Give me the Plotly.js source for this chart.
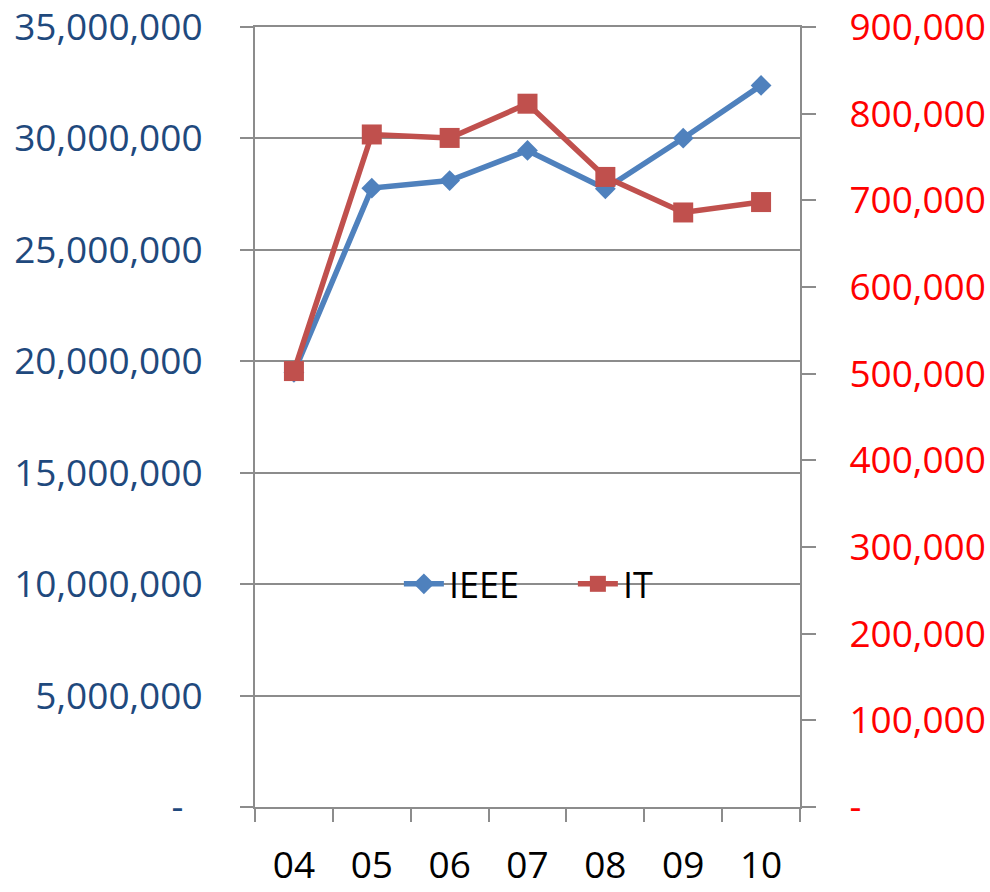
<!DOCTYPE html>
<html>
<head>
<meta charset="utf-8">
<script src="https://cdn.plot.ly/plotly-3.0.1.min.js"></script>
<style>html,body{margin:0;padding:0;background:#fff;}#chart{width:990px;height:892px;}</style>
</head>
<body>
<div id="chart"></div>
<script>
const categories = ["04", "05", "06", "07", "08", "09", "10"];
const ieeeValues = [19500000, 27770000, 28110000, 29460000, 27740000, 30010000, 32380000];
const itValues = [503000, 776000, 772000, 811500, 727000, 686000, 698000];
const leftTickVals = [0, 5000000, 10000000, 15000000, 20000000, 25000000, 30000000, 35000000];
const leftTickText = ["-\u00a0\u00a0", "5,000,000", "10,000,000", "15,000,000", "20,000,000", "25,000,000", "30,000,000", "35,000,000"];
const rightTickVals = [0, 100000, 200000, 300000, 400000, 500000, 600000, 700000, 800000, 900000];
const rightTickText = ["-", "100,000", "200,000", "300,000", "400,000", "500,000", "600,000", "700,000", "800,000", "900,000"];

const FONT = "Open Sans, Liberation Sans, sans-serif";
const GRID = "#8c8c8c";

const traces = [
  {
    x: categories, y: ieeeValues, name: "IEEE", type: "scatter", mode: "lines+markers",
    line: {color: "#4F81BD", width: 5.5},
    marker: {symbol: "diamond", size: 16, color: "#4F81BD"},
    yaxis: "y"
  },
  {
    x: categories, y: itValues, name: "IT", type: "scatter", mode: "lines+markers",
    line: {color: "#C0504D", width: 5.5},
    marker: {symbol: "square", size: 20, color: "#C0504D"},
    yaxis: "y2"
  }
];

const layout = {
  width: 990, height: 892,
  paper_bgcolor: "#fff", plot_bgcolor: "#fff",
  margin: {l: 255, r: 190, t: 27, b: 85, pad: 0},
  font: {family: FONT, size: 36, color: "#000"},
  showlegend: true,
  legend: {
    orientation: "h", x: 0.264, y: 0.286, xanchor: "left", yanchor: "middle",
    bgcolor: "rgba(0,0,0,0)", font: {family: FONT, size: 36, color: "#000"},
    entrywidth: 119, entrywidthmode: "pixels", itemwidth: 40
  },
  xaxis: {
    type: "category", tickson: "boundaries", ticks: "outside", ticklen: 13, tickwidth: 2,
    tickcolor: GRID, showline: true, linecolor: GRID, linewidth: 2, mirror: true,
    showgrid: false, zeroline: false,
    tickfont: {family: FONT, size: 37, color: "#000"}, ticklabelstandoff: 25,
    ticklabeloverflow: "allow",
    range: [-0.5, 6.5]
  },
  yaxis: {
    range: [0, 35000000], tickvals: leftTickVals, ticktext: leftTickText,
    ticks: "outside", ticklen: 13, tickwidth: 2, tickcolor: GRID,
    showline: true, linecolor: GRID, linewidth: 2,
    showgrid: true, gridcolor: GRID, gridwidth: 2, zeroline: false,
    tickfont: {family: FONT, size: 37, color: "#1F497D"}, ticklabelstandoff: 30,
    ticklabeloverflow: "allow"
  },
  yaxis2: {
    overlaying: "y", side: "right", range: [0, 900000],
    tickvals: rightTickVals, ticktext: rightTickText,
    ticks: "outside", ticklen: 14, tickwidth: 2, tickcolor: GRID,
    showline: true, linecolor: GRID, linewidth: 2,
    showgrid: false, zeroline: false,
    tickfont: {family: FONT, size: 37, color: "#FF0000"}, ticklabelstandoff: 26,
    ticklabeloverflow: "allow"
  }
};

Plotly.newPlot("chart", traces, layout, {displayModeBar: false, staticPlot: true});
</script>
</body>
</html>
